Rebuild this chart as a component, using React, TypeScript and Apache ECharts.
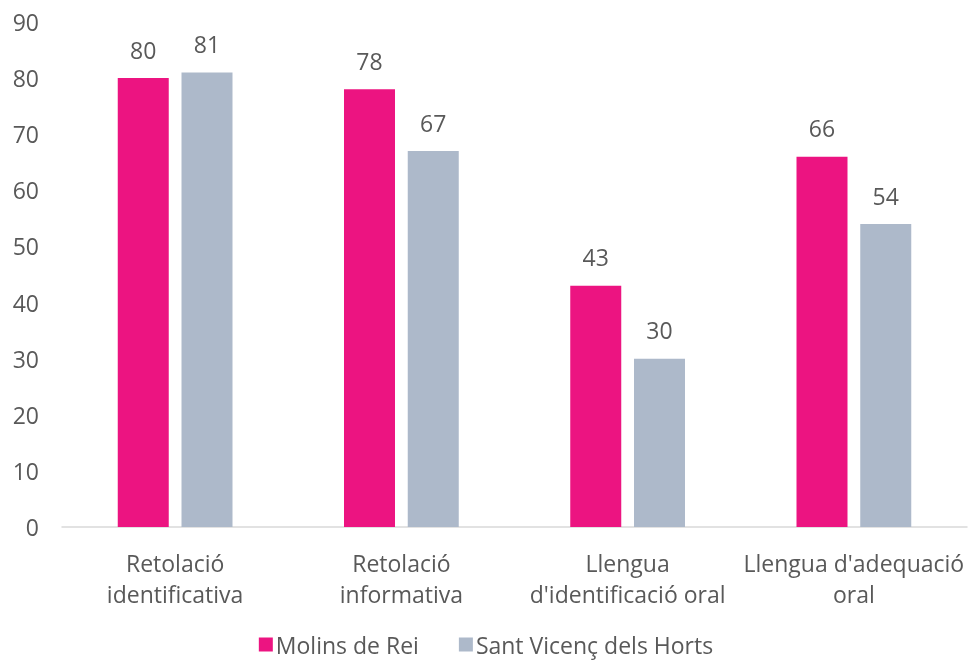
import React, { useEffect, useRef } from "react";
import * as echarts from "echarts";

const categories = [
  "Retolació\nidentificativa",
  "Retolació\ninformativa",
  "Llengua\nd'identificació oral",
  "Llengua d'adequació\noral",
];
const seriesNames = ["Molins de Rei", "Sant Vicenç dels Horts"];
const molinsValues = [80, 78, 43, 66];
const santVicencValues = [81, 67, 30, 54];
const colors = ["#EC1481", "#ADB9CA"];

export default function App() {
  const ref = useRef<HTMLDivElement>(null);
  useEffect(() => {
    if (!ref.current) return;
    const chart = echarts.init(ref.current, null, { renderer: "svg" });
    const font = "'Open Sans', sans-serif";
    const textColor = "#595959";
    const fs = 23;
    const mkSeries = (name: string, data: number[], color: string) => ({
      name,
      type: "bar",
      data,
      barWidth: 51,
      barGap: "25%",
      itemStyle: { color },
      label: {
        show: true,
        position: "top",
        distance: 17,
        color: textColor,
        fontSize: fs,
        fontFamily: font,
      },
    });
    chart.setOption({
      animation: false,
      color: colors,
      grid: { left: 62, right: 5, top: 22, bottom: 141, containLabel: false },
      legend: {
        top: 633,
        left: "center",
        itemWidth: 14,
        itemHeight: 14,
        itemGap: 40,
        icon: "rect",
        padding: 0,
        textStyle: { color: textColor, fontSize: fs, fontFamily: font, padding: [0, 0, 0, -2] },
        data: seriesNames,
      },
      xAxis: {
        type: "category",
        data: categories,
        axisLine: { lineStyle: { color: "#D9D9D9", width: 1.5 } },
        axisTick: { show: false },
        axisLabel: {
          color: textColor,
          fontSize: fs,
          fontFamily: font,
          lineHeight: 31,
          margin: 20,
          interval: 0,
        },
      },
      yAxis: {
        type: "value",
        min: 0,
        max: 90,
        interval: 10,
        splitLine: { show: false },
        axisLine: { show: false },
        axisTick: { show: false },
        axisLabel: {
          color: textColor,
          fontSize: fs,
          fontFamily: font,
          margin: 23,
        },
      },
      series: [
        mkSeries(seriesNames[0], molinsValues, colors[0]),
        mkSeries(seriesNames[1], santVicencValues, colors[1]),
      ],
    });
    return () => chart.dispose();
  }, []);
  return (
    <div
      ref={ref}
      style={{ position: "fixed", left: 0, top: 0, width: 972, height: 668 }}
    />
  );
}
